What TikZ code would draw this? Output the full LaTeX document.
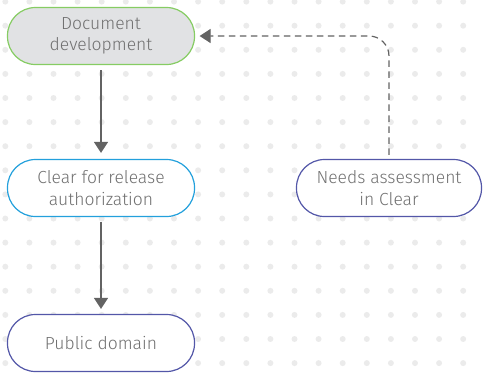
\documentclass[tikz,border=0pt]{standalone}
\usepackage{fontspec}
\setmainfont{Fira Sans Light}
\usetikzlibrary{arrows.meta}
\definecolor{dotc}{HTML}{EBEBEB}
\definecolor{txtc}{HTML}{707070}
\definecolor{linec}{HTML}{636363}
\definecolor{greenc}{HTML}{86CC63}
\definecolor{bluec}{HTML}{23A0DC}
\definecolor{indigoc}{HTML}{5357A8}
\definecolor{grayfill}{HTML}{E1E2E4}
\tikzset{
  pill/.style={draw, line width=1.2pt, fill=white, rounded corners=28pt,
    minimum width=187pt, minimum height=57pt, align=center,
    text=txtc, font=\fontsize{17.5}{21.5}\selectfont, inner sep=0pt},
  flow/.style={draw=linec, line width=1.3pt, -{Triangle[width=14pt,length=11pt]}},
  back/.style={flow, dash pattern=on 6.5pt off 4.5pt, line width=1.2pt, rounded corners=20pt}
}
\begin{document}
\begin{tikzpicture}[x=1pt,y=-1pt]
  \useasboundingbox (0,0) rectangle (483,373);
  % dotted background grid
  \foreach \i in {0,...,19}
    \foreach \j in {0,...,15}
      \fill[dotc] (5.3+24.1*\i, 1.6+24.1*\j) circle (3);
  % process steps
  \node[pill, draw=greenc, fill=grayfill] (doc) at (101,36) {Document\\development};
  \node[pill, draw=bluec] (clear) at (101,188) {Clear for release\\authorization};
  \node[pill, draw=indigoc, minimum width=185pt] (needs) at (389,188) {Needs assessment\\in Clear};
  \node[pill, draw=indigoc] (pub) at (101,343) {Public domain};
  % connectors
  \draw[flow] ([yshift=-5pt]doc.south) -- ([yshift=6pt]clear.north);
  \draw[flow] ([yshift=-5pt]clear.south) -- ([yshift=5pt]pub.north);
  \draw[back] ([yshift=4pt]needs.north) |- ([xshift=4.5pt]doc.east);
\end{tikzpicture}
\end{document}
